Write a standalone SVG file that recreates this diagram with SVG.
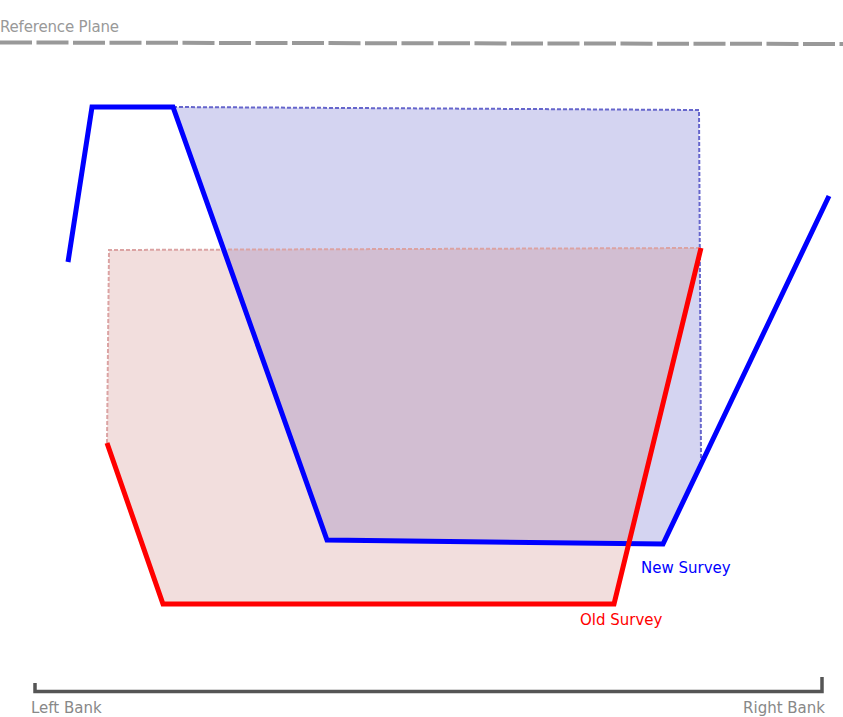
<svg xmlns="http://www.w3.org/2000/svg" width="843" height="717" viewBox="0 0 843 717">
<style>
text{font-family:"DejaVu Sans","Liberation Sans",sans-serif;font-size:15px}
.lbl{fill:#999}
.bank{fill:#888}
.line{fill:none;stroke-width:5;stroke-linejoin:miter}
</style>
<rect width="843" height="717" fill="#fff"/>
<g id="reference-plane">
<line x1="0" y1="42.5" x2="843" y2="44" stroke="#999" stroke-width="4" stroke-dasharray="32,4.5"/>
<text class="lbl" x="0" y="32" textLength="119">Reference Plane</text>
</g>
<g id="new-survey-fill">
<polygon points="173,107 699,110 701,458 663,544 327,540" fill="#6666cc" fill-opacity="0.28"/>
<polyline points="173,107 699,110 701,458" fill="none" stroke="#6666cc" stroke-width="2" stroke-dasharray="4,2"/>
</g>
<g id="old-survey-fill">
<polygon points="109,250 701,248 614,604 163,604 107,443" fill="#cc7a76" fill-opacity="0.25"/>
<polyline points="107,443 109,250 701,248" fill="none" stroke="#dba3a3" stroke-width="2" stroke-dasharray="4,2"/>
</g>
<g id="connectors">
<polyline class="line" points="68,262 92,107 173,107 327,540 663,544 829,196" stroke="#0000ff"/>
<polyline class="line" points="107,443 163,604 614,604 701,248" stroke="#ff0000"/>
</g>
<g id="new-survey-label">
<text x="641" y="573" fill="#0000ff">New Survey</text>
</g>
<g id="old-survey-label">
<text x="580" y="625" fill="#ff0000">Old Survey</text>
</g>
<g id="bank-scale">
<polyline points="35,683 35,691.5 822,691.5 822,677" fill="none" stroke="#555" stroke-width="3.5"/>
<text class="bank" x="31" y="713">Left Bank</text>
<text class="bank" x="825" y="713" text-anchor="end">Right Bank</text>
</g>
</svg>
